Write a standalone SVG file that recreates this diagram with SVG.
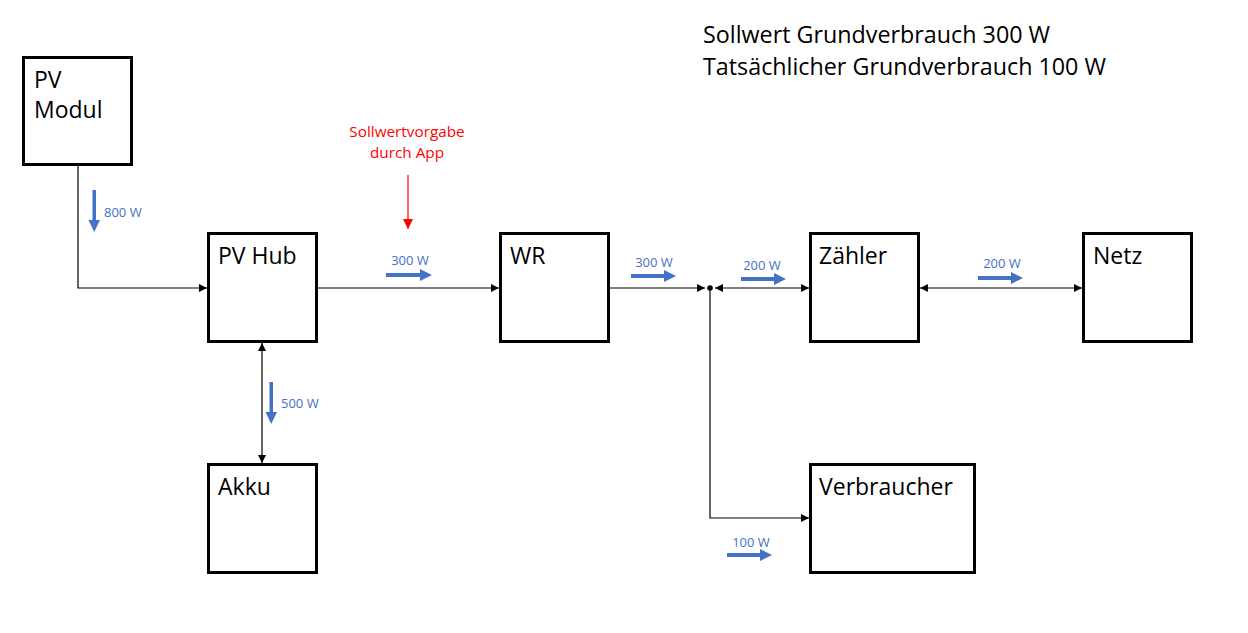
<svg xmlns="http://www.w3.org/2000/svg" width="1248" height="633" viewBox="0 0 1248 633">
<defs>
<style>
.box{fill:#fff;stroke:#000;stroke-width:3}
.lbl{font-family:"Open Sans","Liberation Sans",sans-serif;font-size:23px;fill:#000}
.w{font-family:"Open Sans","Liberation Sans",sans-serif;font-size:13px;fill:#4472C4}
.red{font-family:"Open Sans","Liberation Sans",sans-serif;font-size:15.3px;fill:#FF0000}
.note{font-family:"Open Sans","Liberation Sans",sans-serif;font-size:23.3px;fill:#000}
.ln{fill:none;stroke:#000;stroke-width:1.2}
.flow{fill:#4472C4}
</style>
<marker id="ah" viewBox="0 0 10 10" refX="10" refY="5" markerWidth="8" markerHeight="8" markerUnits="userSpaceOnUse" orient="auto-start-reverse"><path d="M0,0 L10,5 L0,10 Z" fill="#000"/></marker>
<marker id="ahr" viewBox="0 0 10 10" refX="10" refY="5" markerWidth="10" markerHeight="10" markerUnits="userSpaceOnUse" orient="auto"><path d="M0,0 L10,5 L0,10 Z" fill="#FF0000"/></marker>
</defs>
<rect width="1248" height="633" fill="#fff"/>
<g id="connectors">
<path class="ln" d="M78,165 V288 H207" marker-end="url(#ah)"/>
<path class="ln" d="M317,288 H499" marker-end="url(#ah)"/>
<path class="ln" d="M609,288 H705" marker-end="url(#ah)"/>
<path class="ln" d="M715,288 H809" marker-start="url(#ah)" marker-end="url(#ah)"/>
<path class="ln" d="M920,288 H1082" marker-start="url(#ah)" marker-end="url(#ah)"/>
<path class="ln" d="M262,343 V463" marker-start="url(#ah)" marker-end="url(#ah)"/>
<path class="ln" d="M710,288 V518 H809" marker-end="url(#ah)"/>
<circle cx="710" cy="288" r="2.8" fill="#000"/>
<path d="M408,175 V229" stroke="#FF0000" stroke-width="1.2" fill="none" marker-end="url(#ahr)"/>
</g>
<g id="flows">
<path class="flow" d="M92.5,190 H96 V220 H100 L94.25,232 L88.5,220 H92.5 Z"/>
<path class="flow" d="M269.5,382 H273 V412 H277 L271.25,424 L265.5,412 H269.5 Z"/>
<path class="flow" d="M386,273 H420 V269 L432,275 L420,281 V277 H386 Z"/>
<path class="flow" d="M631,274 H664 V270 L676,276 L664,282 V278 H631 Z"/>
<path class="flow" d="M741,277 H774 V273 L786,279 L774,285 V281 H741 Z"/>
<path class="flow" d="M978,276 H1011 V272 L1023,278 L1011,284 V280 H978 Z"/>
<path class="flow" d="M727,553 H760 V549 L772,555 L760,561 V557 H727 Z"/>
<text class="w" x="104" y="217">800 W</text>
<text class="w" x="281" y="408">500 W</text>
<text class="w" x="410" y="265" text-anchor="middle">300 W</text>
<text class="w" x="654" y="267" text-anchor="middle">300 W</text>
<text class="w" x="762" y="270" text-anchor="middle">200 W</text>
<text class="w" x="1002" y="268" text-anchor="middle">200 W</text>
<text class="w" x="751" y="547" text-anchor="middle">100 W</text>
</g>
<g id="pv-modul"><rect class="box" x="23.5" y="57.5" width="108" height="107"/><text class="lbl" x="34" y="88">PV</text><text class="lbl" x="34" y="118">Modul</text></g>
<g id="pv-hub"><rect class="box" x="208.5" y="233.5" width="108" height="108"/><text class="lbl" x="218" y="264">PV Hub</text></g>
<g id="wr"><rect class="box" x="500.5" y="233.5" width="108" height="108"/><text class="lbl" x="510" y="264">WR</text></g>
<g id="zaehler"><rect class="box" x="810.5" y="233.5" width="108" height="108"/><text class="lbl" x="819" y="264">Zähler</text></g>
<g id="netz"><rect class="box" x="1083.5" y="233.5" width="108" height="108"/><text class="lbl" x="1093" y="264">Netz</text></g>
<g id="akku"><rect class="box" x="208.5" y="464.5" width="108" height="108"/><text class="lbl" x="218" y="495">Akku</text></g>
<g id="verbraucher"><rect class="box" x="810.5" y="464.5" width="164" height="108"/><text class="lbl" x="819" y="495">Verbraucher</text></g>
<g id="sollwertvorgabe"><text class="red" x="407" y="137" text-anchor="middle">Sollwertvorgabe</text><text class="red" x="407" y="158" text-anchor="middle">durch App</text></g>
<g id="note"><text class="note" x="703" y="43">Sollwert Grundverbrauch 300 W</text><text class="note" x="703" y="75">Tatsächlicher Grundverbrauch 100 W</text></g>
</svg>
